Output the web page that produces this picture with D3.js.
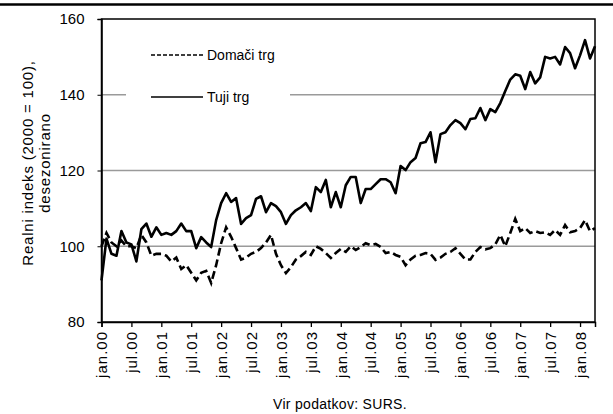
<!DOCTYPE html>
<html>
<head>
<meta charset="utf-8">
<script src="https://cdn.jsdelivr.net/npm/d3@7"></script>
<style>
  body { margin: 0; background: #fff; }
  svg { display: block; font-family: Arial, "Liberation Sans", sans-serif; }
</style>
</head>
<body>
<svg width="613" height="414"></svg>
<script>
// monthly, jan.2000 .. apr.2008
var domaci = [
  100, 103.5, 101, 100, 101.5, 100, 100, 99.5, 103, 101,
  97.5, 98, 98, 97.5, 96, 97, 94, 95, 93, 91,
  93, 93.5, 90.3, 95, 100.8, 105, 102.5, 99.5, 96.5, 97,
  98, 98.5, 99.5, 101, 103, 98, 95, 92.9, 94.5, 96.5,
  97.4, 98.5, 97.7, 100, 99.3, 98.2, 96.9, 98.2, 99.3, 98.5,
  100, 99, 99.8, 100.8, 100.3, 100.6, 99.8, 98.2, 98.5, 97.7,
  97.2, 95, 96.5, 97.5, 97.7, 98.2, 98, 96.4, 97, 98,
  98.5, 99.5, 98, 96.5, 96.5, 98.5, 99.8, 99.2, 99.5, 100.5,
  103, 100, 103.5, 107.2, 104, 104.8, 103.5, 104, 103.5, 103.7,
  103, 104.3, 103, 105.6, 103.7, 104, 104.8, 106.9, 104, 104.8
];
var tuji = [
  91, 102, 98, 97.5, 104, 101, 100.5, 96, 104.5, 106,
  102.5, 105, 103, 103.5, 103, 104, 106, 104, 104, 99.5,
  102.4, 101, 99.8, 106.9, 111.4, 114, 111.7, 112.7, 105.9, 107.4,
  108.2, 112.5, 113.2, 109, 111.4, 110.6, 109, 105.9, 108.2, 109.5,
  110.3, 111.4, 109.3, 115.6, 114.3, 117.5, 110.3, 114.3, 110.3, 116.1,
  118.3, 118.3, 111.4, 115.1, 115.1, 116.4, 117.7, 117.7, 116.9, 114,
  121.2, 120.1, 122.2, 123.3, 127.2, 127.5, 130.1, 122.2, 129.6, 130.1,
  132, 133.3, 132.5, 130.9, 133.6, 133.8, 136.5, 133.3, 136.2, 135.4,
  137.8, 141, 144, 145.4, 145, 141.5, 146, 143, 144.6, 150,
  149.6, 150, 148, 152.6, 151, 147, 150.4, 154.4, 149.6, 152.8
];
var tickLabels = ["jan.00", "jul.00", "jan.01", "jul.01", "jan.02", "jul.02", "jan.03", "jul.03",
  "jan.04", "jul.04", "jan.05", "jul.05", "jan.06", "jul.06", "jan.07", "jul.07", "jan.08"];
var yTicks = [80, 100, 120, 140, 160];
var seriesNames = ["Domači trg", "Tuji trg"];

var svg = d3.select("svg");
var plotL = 101.5, plotR = 595, plotT = 19, plotB = 322;

var x = d3.scaleLinear().domain([0, domaci.length - 1]).range([plotL, plotR]);
var y = d3.scaleLinear().domain([80, 160]).range([plotB, plotT]);

// top rule of the cut-off title block
svg.append("line")
    .attr("x1", 0).attr("x2", 613)
    .attr("y1", 4.5).attr("y2", 4.5)
    .attr("stroke", "#000").attr("stroke-width", 2.5);

// gridlines
svg.append("g")
    .selectAll("line")
    .data([100, 120, 140])
    .enter().append("line")
    .attr("x1", plotL).attr("x2", plotR)
    .attr("y1", function (d) { return y(d); })
    .attr("y2", function (d) { return y(d); })
    .attr("stroke", "#9a9a9a")
    .attr("stroke-width", 1.5);

// legend background covers the grid
svg.append("rect")
    .attr("x", 126).attr("y", 36)
    .attr("width", 164).attr("height", 78)
    .attr("fill", "#fff");

var legend = svg.append("g");
legend.selectAll("line")
    .data(seriesNames)
    .enter().append("line")
    .attr("x1", 151).attr("x2", 203)
    .attr("y1", function (d, i) { return 55 + i * 42; })
    .attr("y2", function (d, i) { return 55 + i * 42; })
    .attr("stroke", "#000")
    .attr("stroke-width", 1.3)
    .attr("stroke-dasharray", function (d, i) { return i == 0 ? "4,2" : null; });
legend.selectAll("text")
    .data(seriesNames)
    .enter().append("text")
    .attr("x", 207)
    .attr("y", function (d, i) { return 55 + i * 42; })
    .attr("dy", "0.35em")
    .attr("font-size", 14)
    .text(function (d) { return d; });

// series
var line = d3.line()
    .x(function (d, i) { return x(i); })
    .y(function (d) { return y(d); });

svg.append("path")
    .datum(domaci)
    .attr("d", line)
    .attr("fill", "none")
    .attr("stroke", "#000")
    .attr("stroke-width", 2.6)
    .attr("stroke-dasharray", "8,4");

svg.append("path")
    .datum(tuji)
    .attr("d", line)
    .attr("fill", "none")
    .attr("stroke", "#000")
    .attr("stroke-width", 2.6)
    .attr("stroke-linejoin", "round");

// frame
svg.append("rect")
    .attr("x", plotL).attr("y", plotT)
    .attr("width", plotR - plotL).attr("height", plotB - plotT)
    .attr("fill", "none")
    .attr("stroke", "#000")
    .attr("stroke-width", 1.5);

// axes
var yAxis = d3.axisLeft(y).tickValues(yTicks).tickSize(4).tickPadding(13);
svg.append("g")
    .attr("transform", "translate(" + plotL + ",0)")
    .call(yAxis)
    .call(function (g) {
        g.select(".domain").attr("stroke-width", 1.5);
        g.selectAll("text").attr("font-size", 15).attr("fill", "#000");
    });

var xAxis = d3.axisBottom(x)
    .tickValues(tickLabels.map(function (d, i) { return i * 6; }))
    .tickFormat(function (d, i) { return tickLabels[i]; })
    .tickSize(5);
svg.append("g")
    .attr("transform", "translate(0," + plotB + ")")
    .call(xAxis)
    .call(function (g) {
        g.select(".domain").attr("stroke-width", 1.5);
        g.selectAll(".tick line").attr("stroke-width", 1.3);
        g.selectAll("text")
            .attr("font-size", 15)
            .attr("letter-spacing", 1)
            .attr("fill", "#000")
            .attr("text-anchor", "end")
            .attr("transform", "rotate(-90)")
            .attr("x", -9)
            .attr("y", 0)
            .attr("dy", "0.35em");
    });

// y axis title
var yt = svg.append("text")
    .attr("transform", "translate(33,163) rotate(-90)")
    .attr("text-anchor", "middle")
    .attr("font-size", 15)
    .attr("letter-spacing", 0.8);
yt.append("tspan").attr("x", 0).attr("dy", 0).text("Realni indeks (2000 = 100),");
yt.append("tspan").attr("x", 0).attr("dy", 17).text("desezonirano");

// source
svg.append("text")
    .attr("x", 340).attr("y", 409)
    .attr("text-anchor", "middle")
    .attr("font-size", 14)
    .attr("letter-spacing", 0.3)
    .text("Vir podatkov: SURS.");
</script>
</body>
</html>
